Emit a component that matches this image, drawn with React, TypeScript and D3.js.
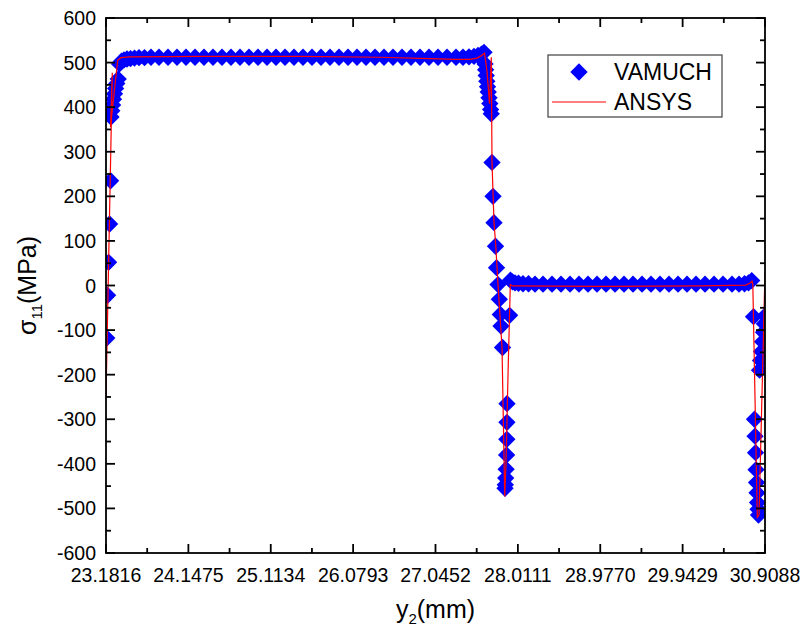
import React from "react";
import * as d3 from "d3";

// VAMUCH results (y2 in mm, sigma11 in MPa)
const vamuchX = [
  23.191, 23.2004, 23.2121, 23.2238, 23.2355,
  23.2402, 23.2496, 23.259, 23.2695, 23.2813, 23.2942, 23.3082, 23.3247,
  23.3399, 23.3634, 23.3927, 23.4278, 23.4689, 23.5158, 23.5686, 23.6331, 23.7093,
  23.8031, 23.9086, 24.0141, 24.1197, 24.2252, 24.3307, 24.4363, 24.5418, 24.6474,
  24.7529, 24.8584, 24.964, 25.0695, 25.175, 25.2806, 25.3861, 25.4916, 25.5972,
  25.7027, 25.8082, 25.9138, 26.0193, 26.1248, 26.2304, 26.3359, 26.4414, 26.547,
  26.6525, 26.758, 26.8636, 26.9691, 27.0746, 27.1802, 27.2857, 27.3678, 27.4381,
  27.4968, 27.5437, 27.5847, 27.614,
  27.6258, 27.6328, 27.6398, 27.6469, 27.6551, 27.6633, 27.6727, 27.682, 27.6914, 27.6984,
  27.7078, 27.7196, 27.7313, 27.7489, 27.7606, 27.7782, 27.7934, 27.8052, 27.8134, 27.831,
  27.8603, 27.8638, 27.8685, 27.8732, 27.879, 27.8814, 27.8826, 27.8837, 27.9142, 27.9236,
  27.9482, 27.9775, 28.0186, 28.0713, 28.1358, 28.2121,
  28.3059, 28.4114, 28.5169, 28.6225, 28.728, 28.8335, 28.9391, 29.0446, 29.1501,
  29.2557, 29.3612, 29.4667, 29.5723, 29.6778, 29.7833, 29.8889, 29.9944, 30.0999,
  30.2055, 30.311, 30.4165, 30.5221, 30.6042, 30.6687, 30.7156, 30.7531,
  30.7742, 30.7859, 30.7918, 30.7977, 30.8035, 30.8094, 30.8152, 30.8211, 30.827, 30.8328,
  30.8445, 30.8563, 30.868, 30.8797, 30.8914, 30.9008, 30.9088,
];
const vamuchY = [
  -118, -22, 52, 138, 235,
  378, 392, 405, 418, 430, 442, 453, 463,
  497, 503, 506, 508, 509, 510, 511, 511, 512,
  512, 512, 512, 512, 512, 512, 512, 512, 512,
  512, 512, 512, 512, 512, 512, 512, 512, 512,
  512, 512, 512, 512, 512, 512, 512, 512, 512,
  512, 512, 512, 512, 512, 512, 512, 512, 513,
  514, 516, 519, 523,
  497, 484, 471, 458, 446, 434, 421, 408, 395, 385,
  276, 200, 141, 88, 40, 2, -31, -65, -91, -139,
  -455, -447, -432, -412, -380, -345, -307, -265, -67, 12,
  8, 6, 5, 4, 4, 3,
  3, 3, 3, 3, 3, 3, 3, 3, 3,
  3, 3, 3, 3, 3, 3, 3, 3, 3,
  3, 3, 3, 3, 3, 4, 6, 11,
  -70, -300, -338, -375, -413, -442, -465, -487, -502, -515,
  -190, -168, -148, -126, -105, -86, -68,
];

// ANSYS results, in path order
const ansysX = [
  23.1816, 23.2555, 23.2344, 23.2813, 23.3188, 23.3575, 23.463, 24.2838, 25.4564,
  26.3945, 26.9808, 27.274, 27.4499, 27.5319, 27.5789, 27.6199, 27.6492, 27.6785,
  27.6996, 27.7078, 27.7313, 27.7524, 27.7782, 27.8251, 27.8568, 27.872, 27.8955,
  27.9224, 27.9541, 28.9742, 30.1468, 30.6862, 30.739, 30.7566, 30.766, 30.8187,
  30.8387, 30.9088,
];
const ansysY = [
  -250, 477, 355, 440, 505, 511, 513, 514, 514,
  512, 509, 507, 507, 510, 515, 521, 480, 408,
  512, 276, 141, 88, 2, -139, -473, -400, -200,
  2, -1, -2, -1, 1, 6, 10, 2, -520,
  -515, 30,
];

const xTickLabels = ["23.1816", "24.1475", "25.1134", "26.0793", "27.0452", "28.0111", "28.9770", "29.9429", "30.9088"];
const yTickValues = [-600, -500, -400, -300, -200, -100, 0, 100, 200, 300, 400, 500, 600];
const seriesNames = ["VAMUCH", "ANSYS"];

const W = 806, H = 632;
const left = 106, right = 765, top = 18, bottom = 553;
const font = "'Liberation Sans', Arial, sans-serif";

export default function App() {
  const xTicks = xTickLabels.map(Number);
  const x = d3.scaleLinear().domain([xTicks[0], xTicks[xTicks.length - 1]]).range([left, right]);
  const y = d3.scaleLinear().domain([-600, 600]).range([bottom, top]);

  const xMinor = d3.pairs(xTicks).map(([a, b]) => (a + b) / 2);
  const yMinor = d3.pairs(yTickValues).map(([a, b]) => (a + b) / 2);

  const pts = vamuchX.map((v, i) => [v, vamuchY[i]] as [number, number]);
  const line = d3.line<number>().x((_, i) => x(ansysX[i])).y((d) => y(d));
  const diamond = d3.symbol(d3.symbolSquare, 150)() as string;

  const major = 9, minor = 5;

  return (
    <svg width={W} height={H} style={{ position: "absolute", left: 0, top: 0 }} fontFamily={font}>
      <rect width={W} height={H} fill="#fff" />
      <defs>
        <clipPath id="plot">
          <rect x={left} y={top} width={right - left} height={bottom - top} />
        </clipPath>
      </defs>

      <g clipPath="url(#plot)">
        {pts.map(([px, py], i) => (
          <path key={i} d={diamond} fill="#0000ff"
            transform={`translate(${x(px)},${y(py)}) rotate(45)`} />
        ))}
        <path d={line(ansysY) ?? ""} fill="none" stroke="#ff0000" strokeWidth={1.2} />
      </g>

      {/* frame and inward ticks */}
      <g stroke="#000" strokeWidth={1.8}>
        <rect x={left} y={top} width={right - left} height={bottom - top} fill="none" />
        {xTicks.map((t) => (
          <g key={"xt" + t}>
            <line x1={x(t)} x2={x(t)} y1={bottom} y2={bottom - major} />
            <line x1={x(t)} x2={x(t)} y1={top} y2={top + major} />
          </g>
        ))}
        {xMinor.map((t) => (
          <g key={"xm" + t}>
            <line x1={x(t)} x2={x(t)} y1={bottom} y2={bottom - minor} />
            <line x1={x(t)} x2={x(t)} y1={top} y2={top + minor} />
          </g>
        ))}
        {yTickValues.map((t) => (
          <g key={"yt" + t}>
            <line x1={left} x2={left + major} y1={y(t)} y2={y(t)} />
            <line x1={right} x2={right - major} y1={y(t)} y2={y(t)} />
          </g>
        ))}
        {yMinor.map((t) => (
          <g key={"ym" + t}>
            <line x1={left} x2={left + minor} y1={y(t)} y2={y(t)} />
            <line x1={right} x2={right - minor} y1={y(t)} y2={y(t)} />
          </g>
        ))}
      </g>

      {/* tick labels */}
      <g fontSize={19.5} fill="#000">
        {xTickLabels.map((s, i) => (
          <text key={s} x={x(xTicks[i])} y={bottom + 29} textAnchor="middle">{s}</text>
        ))}
        {yTickValues.map((t) => (
          <text key={t} x={left - 10} y={y(t) + 7} textAnchor="end">{t}</text>
        ))}
      </g>

      {/* axis titles */}
      <text x={(left + right) / 2} y={618} textAnchor="middle" fontSize={25}>
        y<tspan fontSize={15} dy={6}>2</tspan><tspan dy={-6}>(mm)</tspan>
      </text>
      <text transform={`translate(36,${(top + bottom) / 2}) rotate(-90)`} textAnchor="middle" fontSize={25}>
        σ<tspan fontSize={15} dy={6}>11</tspan><tspan dy={-6}>(MPa)</tspan>
      </text>

      {/* legend */}
      <g>
        <rect x={548} y={55} width={174} height={62} fill="#fff" stroke="#404040" strokeWidth={1.2} />
        <path d={diamond} fill="#0000ff" transform="translate(579,72) rotate(45)" />
        <line x1={552} x2={606} y1={102} y2={102} stroke="#ff0000" strokeWidth={1.2} />
        <text x={614} y={80} fontSize={23}>{seriesNames[0]}</text>
        <text x={614} y={110} fontSize={23}>{seriesNames[1]}</text>
      </g>
    </svg>
  );
}
